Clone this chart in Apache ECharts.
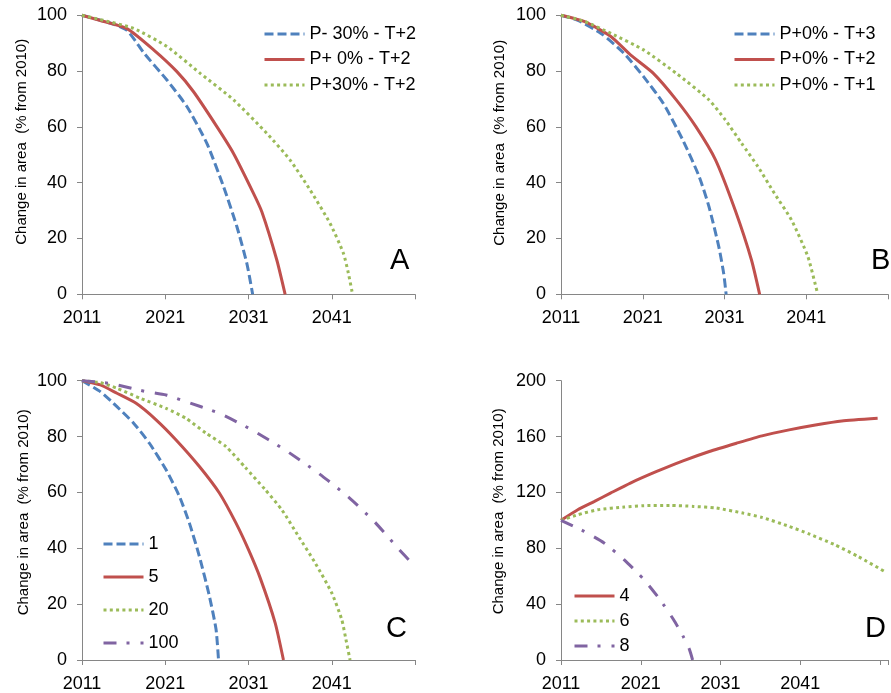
<!DOCTYPE html>
<html>
<head>
<meta charset="utf-8">
<script src="https://cdn.jsdelivr.net/npm/echarts@6/dist/echarts.min.js"></script>
<style>html,body{margin:0;padding:0;background:#fff}#c{width:891px;height:693px}</style>
</head>
<body>
<div id="c"></div>
<script>
// ---------- DATA (years, values in % of 2010 area) ----------
const xTickYears = [2011, 2021, 2031, 2041];
const baseYear = 2011;
const yAxisTitle = 'Change in area  (% from 2010)';
const panelLetters = ['A', 'B', 'C', 'D'];

// Panel A
const A_names = ['P- 30% - T+2', 'P+ 0% - T+2', 'P+30% - T+2'];
const A1_years = [2011, 2013, 2015, 2016.4, 2017.4, 2018.4, 2021.2, 2023.6, 2026, 2028, 2029.6, 2030.8, 2031.5];
const A1_vals  = [100, 98.4, 96.6, 94.6, 90.9, 86.6, 76.8, 67.3, 54.1, 38.6, 24.3, 11.1, 0];
const A2_years = [2011, 2013, 2016.4, 2019.6, 2022.4, 2024.4, 2027.2, 2029.2, 2031.6, 2032.6, 2034.4, 2035.4];
const A2_vals  = [100, 98.3, 95.2, 87.6, 79.8, 72.6, 60.1, 50.5, 36.2, 29.6, 12.3, 0];
const A3_years = [2011, 2013, 2017.2, 2021.2, 2025.2, 2029.2, 2033.2, 2036, 2038.4, 2040.8, 2042.4, 2043, 2043.5];
const A3_vals  = [100, 98.6, 95.3, 88.8, 79.2, 69.7, 57.7, 48.1, 37.4, 25.4, 14.7, 7.5, 0];

// Panel B
const B_names = ['P+0% - T+3', 'P+0% - T+2', 'P+0% - T+1'];
const B1_years = [2011, 2013, 2015.9, 2018.7, 2021.1, 2023.5, 2025.9, 2027.9, 2029.1, 2030.3, 2030.9, 2031.2];
const B1_vals  = [100, 98.3, 93.5, 86.4, 78, 68.5, 55.3, 42.2, 31.4, 17.1, 7.5, 0];
const B2_years = [2011, 2013.9, 2017.1, 2019.5, 2022.3, 2025.1, 2027.5, 2029.9, 2032.3, 2034.3, 2035.3];
const B2_vals  = [100, 97.7, 92.4, 85.8, 79.2, 69.7, 60.1, 48.2, 30.2, 12.3, 0];
const B3_years = [2011, 2013.9, 2017.1, 2021.1, 2025.1, 2029.1, 2031.1, 2033.1, 2035.1, 2037.1, 2039.2, 2041.2, 2042.4];
const B3_vals  = [100, 97.8, 93.5, 87.6, 79.2, 69.7, 62.5, 54.1, 45.7, 36.2, 26.6, 13.5, 0];

// Panel C
const C_names = ['1', '5', '20', '100'];
const C1_years = [2011, 2013.2, 2015.2, 2017.2, 2019.1, 2021.1, 2022.7, 2023.9, 2025.1, 2026.3, 2027.1, 2027.4];
const C1_vals  = [100, 96.1, 90.7, 84.8, 77.6, 68.1, 58.6, 49, 37.1, 22.9, 11, 0];
const C2_years = [2011, 2013.2, 2015.2, 2017.5, 2019.9, 2022.3, 2025.1, 2027.5, 2029.5, 2031, 2032.4, 2034.2, 2035.2];
const C2_vals  = [100, 98.5, 95.5, 91.9, 86, 78.8, 69.3, 59.8, 49, 39.5, 29.4, 13.3, 0];
const C3_years = [2011, 2013.2, 2015.2, 2018, 2021.1, 2023.5, 2025.9, 2028.3, 2030.6, 2033, 2035, 2037, 2039, 2041, 2042.2, 2042.7, 2043.2];
const C3_vals  = [100, 99.3, 97.3, 93.7, 90.1, 86.5, 81.2, 76.4, 69, 61, 53.8, 44.3, 34.8, 24, 14.5, 7.4, 0];
const C4_years = [2011, 2014.4, 2018.7, 2021.1, 2023.1, 2027.5, 2031.4, 2035.4, 2039.4, 2042.9, 2046.1, 2049.1, 2050.4];
const C4_vals  = [100, 99, 96.1, 94.9, 92.9, 88.3, 82.4, 75.2, 66.9, 58.6, 49.6, 39.5, 35.4];

// Panel D
const D_names = ['4', '6', '8'];
const D1_years = [2011, 2013.1, 2015.2, 2017.2, 2019.7, 2023, 2026.3, 2029.6, 2033, 2036.2, 2039.6, 2042.9, 2046.2, 2050.7];
const D1_vals  = [100, 107.6, 113.6, 119.5, 126.7, 135, 142.6, 149.3, 155.2, 160.5, 164.8, 168.3, 171.2, 173.1];
const D2_years = [2011, 2013.1, 2015.6, 2018.9, 2021.4, 2024.7, 2027.6, 2030.5, 2033.8, 2036.2, 2039.6, 2042, 2045.3, 2048.2, 2051.5];
const D2_vals  = [100, 104, 107.6, 109.5, 110.5, 110.7, 110, 108.8, 105.2, 102.1, 95.7, 90.5, 82.6, 74.3, 63.6];
const D3_years = [2011, 2013.9, 2016.4, 2018.9, 2021.4, 2023.4, 2025.1, 2026.3, 2027.1, 2027.5];
const D3_vals  = [100, 92.1, 83.8, 71.9, 57.6, 43.3, 29, 17.1, 7.6, 0];

// ---------- STYLE ----------
const FONT = 'Liberation Sans, Arial, sans-serif';
const COL = { blue: '#4F81BD', red: '#C0504D', green: '#9BBB59', purple: '#8064A2' };
const DASH = { blue: [9, 4], red: 'solid', green: [3, 3.3], purple: [13, 10, 3, 11] };
const AXC = '#868686';

function pts(ys, vs) { return ys.map((y, i) => [y - baseYear, vs[i]]); }

const grids = [
  { left: 82, top: 15.3, width: 333, height: 279 },
  { left: 561, top: 15.3, width: 332, height: 279 },
  { left: 82, top: 380.7, width: 333, height: 280 },
  { left: 561, top: 380.7, width: 331, height: 280 }
];
const xMax = [40, 40, 40, 41];
const yMax = [100, 100, 100, 200];
const yInt = [20, 20, 20, 40];
const nameGaps = [53, 54, 51, 55];
const namePad = [26, 24, 16, 18];

const xAxes = grids.map((g, i) => ({
  gridIndex: i, type: 'value', min: 0, max: xMax[i], interval: 10,
  splitLine: { show: false },
  axisLine: { lineStyle: { color: AXC, width: 1 } },
  axisTick: { show: true, length: 5, lineStyle: { color: AXC } },
  axisLabel: {
    color: '#000', fontSize: 18, fontFamily: FONT, margin: 15,
    showMaxLabel: true,
    formatter: v => (xTickYears.indexOf(v + baseYear) >= 0 ? String(v + baseYear) : '')
  }
}));
const yAxes = grids.map((g, i) => ({
  gridIndex: i, type: 'value', min: 0, max: yMax[i], interval: yInt[i],
  splitLine: { show: false },
  axisLine: { show: true, lineStyle: { color: AXC, width: 1 } },
  axisTick: { show: true, length: 5, lineStyle: { color: AXC } },
  axisLabel: { color: '#000', fontSize: 18, fontFamily: FONT, margin: 15 },
  name: yAxisTitle, nameLocation: 'middle', nameGap: nameGaps[i],
  nameTextStyle: { color: '#000', fontSize: 15, fontFamily: FONT, padding: [0, 0, 0, namePad[i]] }
}));

function mk(name, idx, ys, vs, c) {
  return {
    name, type: 'line', xAxisIndex: idx, yAxisIndex: idx,
    data: pts(ys, vs), symbol: 'none', showSymbol: false, smooth: 0.2,
    clip: false, z: 2,
    lineStyle: { color: COL[c], width: 3, type: DASH[c], cap: 'butt' },
    itemStyle: { color: COL[c] }, animation: false
  };
}

const series = [
  mk(A_names[0], 0, A1_years, A1_vals, 'blue'),
  mk(A_names[1], 0, A2_years, A2_vals, 'red'),
  mk(A_names[2], 0, A3_years, A3_vals, 'green'),
  mk(B_names[0], 1, B1_years, B1_vals, 'blue'),
  mk(B_names[1], 1, B2_years, B2_vals, 'red'),
  mk(B_names[2], 1, B3_years, B3_vals, 'green'),
  mk(C_names[0], 2, C1_years, C1_vals, 'blue'),
  mk(C_names[1], 2, C2_years, C2_vals, 'red'),
  mk(C_names[2], 2, C3_years, C3_vals, 'green'),
  mk(C_names[3], 2, C4_years, C4_vals, 'purple'),
  mk(D_names[0], 3, D1_years, D1_vals, 'red'),
  mk(D_names[1], 3, D2_years, D2_vals, 'green'),
  mk(D_names[2], 3, D3_years, D3_vals, 'purple')
];

function lg(names, left, top, gap) {
  return {
    data: names, left, top, orient: 'vertical', itemWidth: 40, itemHeight: 14,
    itemGap: gap, selectedMode: false, padding: 0,
    itemStyle: { opacity: 0, borderWidth: 0 },
    lineStyle: { width: 3 },
    textStyle: { color: '#000', fontSize: 18, fontFamily: FONT }
  };
}

const letterPos = [[390, 250], [871, 250], [386, 618], [865, 618]];

const option = {
  animation: false,
  grid: grids,
  xAxis: xAxes,
  yAxis: yAxes,
  legend: [
    lg(A_names, 263, 25, 7.5),
    lg(B_names, 733, 25, 7.5),
    lg(C_names, 102, 535, 15),
    lg(D_names, 573, 587, 7)
  ],
  graphic: panelLetters.map((t, i) => ({
    type: 'text', left: letterPos[i][0], top: letterPos[i][1] - 4,
    style: { text: t, fontSize: 29, fontFamily: FONT, fill: '#000' }
  })),
  series
};

const chart = echarts.init(document.getElementById('c'), null, { renderer: 'canvas' });
chart.setOption(option);
</script>
</body>
</html>
